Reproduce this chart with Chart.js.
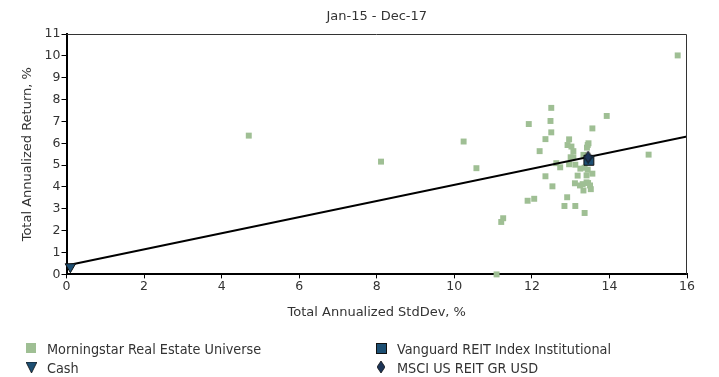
<!DOCTYPE html>
<html><head><meta charset="utf-8">
<script src="https://cdn.jsdelivr.net/npm/chart.js@4"></script>
<style>
html,body{margin:0;padding:0;background:#fff;}
#wrap{position:relative;width:719px;height:377px;}
#c{position:absolute;left:0;top:0;}
.lg{position:absolute;font-family:"Liberation Sans Narrow","Arial Narrow","DejaVu Sans Condensed",sans-serif;font-size:14.3px;color:#333;white-space:nowrap;line-height:16px;}
.mk{position:absolute;}
</style></head>
<body><div id="wrap"><canvas id="c" width="719" height="377"></canvas>
<div class="mk" style="left:26px;top:343px;width:10px;height:10px;background:#9fbf94;"></div>
<div class="lg" style="left:47px;top:341px;">Morningstar Real Estate Universe</div>
<div class="mk" style="left:376px;top:343px;width:9px;height:9px;background:#1d4f73;border:1px solid #111;"></div>
<div class="lg" style="left:397px;top:341px;">Vanguard REIT Index Institutional</div>
<svg class="mk" style="left:26px;top:362px;" width="11" height="11"><polygon points="0,0 11,0 5.5,11" fill="#1d4f73" stroke="#111" stroke-width="0.8"/></svg>
<div class="lg" style="left:47px;top:360px;">Cash</div>
<svg class="mk" style="left:377px;top:361px;" width="8" height="12"><polygon points="4,0 8,6 4,12 0,6" fill="#1d3557" stroke="#111" stroke-width="0.8"/></svg>
<div class="lg" style="left:397px;top:360px;">MSCI US REIT GR USD</div>
</div>
<script>
const universeX = [15.76,8.11,4.70,10.24,10.57,11.09,11.21,11.26,11.89,12.06,11.92,12.20,12.35,12.35,12.50,12.48,12.50,12.53,12.63,12.73,12.84,12.91,12.96,12.92,13.02,13.07,12.96,13.00,13.07,13.12,13.18,13.11,13.12,13.24,13.25,13.33,13.36,13.31,13.33,13.36,13.41,13.44,13.41,13.45,13.50,13.52,13.56,13.42,13.44,13.46,13.56,13.93,15.01];
const universeY = [10.02,5.16,6.35,6.08,4.86,0.00,2.40,2.57,3.37,3.46,6.88,5.64,6.19,4.49,7.62,7.02,6.50,4.03,5.09,4.90,3.13,3.53,6.18,5.92,5.85,5.64,5.04,5.36,5.36,5.02,4.52,4.17,3.13,4.07,4.84,5.47,4.88,4.13,3.84,2.81,4.53,4.79,4.21,4.18,4.07,3.90,4.61,5.80,5.92,6.00,6.68,7.25,5.48];
const fundX = [13.47], fundY = [5.22];
const cashX = [0.10], cashY = [0.35];
const indexX = [13.45], indexY = [5.37];
const lineX = [0, 16], lineY = [0.41, 6.31];
const xTicks = [0,2,4,6,8,10,12,14,16];
const yTicks = [0,1,2,3,4,5,6,7,8,9,10,11];
const title = "Jan-15 - Dec-17";
const xTitle = "Total Annualized StdDev, %";
const yTitle = "Total Annualized Return, %";

const pts = (xs, ys) => xs.map((x, i) => ({x, y: ys[i]}));

function diamond(){
  const c = document.createElement('canvas'); c.width = 9; c.height = 13;
  const g = c.getContext('2d');
  g.beginPath(); g.moveTo(4.5,0.5); g.lineTo(8.5,6.5); g.lineTo(4.5,12.5); g.lineTo(0.5,6.5); g.closePath();
  g.fillStyle = '#1d3557'; g.fill(); g.strokeStyle = '#111'; g.lineWidth = 1; g.stroke();
  return c;
}

const boxPlugin = {
  id: 'box',
  afterDatasetsDraw(chart){
    const {ctx, chartArea:a} = chart;
    ctx.save();
    ctx.strokeStyle = '#333'; ctx.lineWidth = 1;
    ctx.beginPath();
    ctx.moveTo(a.left, a.top + 0.5); ctx.lineTo(a.right - 0.5, a.top + 0.5); ctx.lineTo(a.right - 0.5, a.bottom);
    ctx.stroke();
    ctx.fillStyle = '#333';
    ctx.font = '13px "DejaVu Sans"';
    ctx.textAlign = 'center'; ctx.textBaseline = 'middle';
    ctx.fillText(title, (a.left + a.right) / 2, 17);
    ctx.restore();
  }
};

new Chart(document.getElementById('c'), {
  data: {
    datasets: [
      {type:'scatter', label:'Morningstar Real Estate Universe', data: pts(universeX, universeY), pointStyle:'rect', pointRadius:4.2, backgroundColor:'#9fbf94', borderWidth:0, order:3, clip:false},
      {type:'line', label:'line', data: pts(lineX, lineY), borderColor:'#000', borderWidth:2, pointRadius:0, fill:false, order:2},
      {type:'scatter', label:'Cash', data: pts(cashX, cashY), pointStyle:'triangle', rotation:180, pointRadius:6, backgroundColor:'#1d4f73', borderColor:'#111', borderWidth:1, order:1, clip:false},
      {type:'scatter', label:'Vanguard REIT Index Institutional', data: pts(fundX, fundY), pointStyle:'rect', pointRadius:7, backgroundColor:'#1d4f73', borderColor:'#111', borderWidth:1, order:1},
      {type:'scatter', label:'MSCI US REIT GR USD', data: pts(indexX, indexY), pointStyle: diamond(), order:0}
    ]
  },
  options: {
    responsive:false, animation:false,
    layout:{padding:{left:16, right:32, top:34, bottom:53}},
    plugins:{
      legend:{display:false}, tooltip:{enabled:false}, title:{display:false}
    },
    scales:{
      x:{type:'linear', min:0, max:16,
        afterBuildTicks(s){ s.ticks = xTicks.map(v => ({value:v})); },
        grid:{display:true, drawOnChartArea:false, drawTicks:true, tickLength:4, color:'#000'},
        border:{display:true, color:'#000', width:2},
        ticks:{color:'#333', font:{family:'DejaVu Sans', size:12.5}, padding:1, maxRotation:0},
        title:{display:true, text:xTitle, color:'#333', font:{family:'DejaVu Sans', size:13}, padding:{top:9}}
      },
      y:{type:'linear', min:0, max:11,
        afterBuildTicks(s){ s.ticks = yTicks.map(v => ({value:v})); },
        grid:{display:true, drawOnChartArea:false, drawTicks:true, tickLength:5, color:'#000'},
        border:{display:true, color:'#000', width:2},
        ticks:{color:'#333', font:{family:'DejaVu Sans', size:12.5}, padding:1},
        title:{display:true, text:yTitle, color:'#333', font:{family:'DejaVu Sans', size:13}, padding:{bottom:8}}
      }
    }
  },
  plugins:[boxPlugin]
});
</script></body></html>
